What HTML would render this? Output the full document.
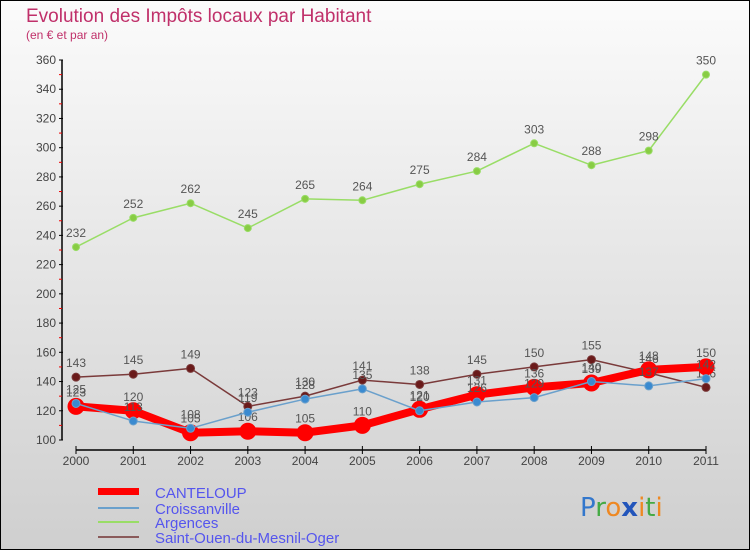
<!DOCTYPE html>
<html><head><meta charset="utf-8"><style>
body{margin:0;}
#wrap{width:750px;height:550px;position:relative;overflow:hidden;}
</style></head><body>
<div id="wrap">
<svg id="chart" width="750" height="550" xmlns="http://www.w3.org/2000/svg" font-family="'Liberation Sans', sans-serif">
<defs>
<linearGradient id="bg" x1="0" y1="0" x2="0" y2="1">
<stop offset="0" stop-color="#fbfbfb"/><stop offset="1" stop-color="#cfcfcf"/>
</linearGradient>
</defs>
<rect x="0.5" y="0.5" width="749" height="549" fill="url(#bg)" stroke="#000"/>
<text x="26" y="22" font-size="19" fill="#c0306a">Evolution des Impôts locaux par Habitant</text>
<text x="26" y="39" font-size="12" fill="#c0306a">(en € et par an)</text>
<g id="axes"></g>
<g id="series"></g>
<g id="legend">
<rect x="98" y="488" width="41" height="7" fill="#f00"/>
<text x="155" y="498" font-size="15" fill="#5555ee">CANTELOUP</text>
<line x1="98" x2="139" y1="508" y2="508" stroke="#6aa0cc" stroke-width="2"/>
<text x="155" y="514" font-size="15" fill="#5555ee">Croissanville</text>
<line x1="98" x2="139" y1="522" y2="522" stroke="#99dd66" stroke-width="2"/>
<text x="155" y="528" font-size="15" fill="#5555ee">Argences</text>
<line x1="98" x2="139" y1="537" y2="537" stroke="#8a5a5a" stroke-width="2"/>
<text x="155" y="543" font-size="15" fill="#5555ee">Saint-Ouen-du-Mesnil-Oger</text>
</g>
<g font-size="26" font-family="'DejaVu Sans', sans-serif">
<text x="580" y="516"><tspan fill="#3377cc">P</tspan><tspan fill="#44aa44">r</tspan><tspan fill="#ee8822">o</tspan><tspan fill="#2255bb" font-weight="bold">x</tspan><tspan fill="#ee8822">i</tspan><tspan fill="#44aa44">t</tspan><tspan fill="#ee8822">i</tspan></text>
</g>
</svg>
</div>
<script>
const years=["2000","2001","2002","2003","2004","2005","2006","2007","2008","2009","2010","2011"];
const yTicks=[100,120,140,160,180,200,220,240,260,280,300,320,340,360];
const canteloup=[123,120,105,106,105,110,121,131,136,139,148,150];
const croissanville=[125,113,108,119,128,135,120,126,129,140,137,142];
const argences=[232,252,262,245,265,264,275,284,303,288,298,350];
const saintOuen=[143,145,149,123,130,141,138,145,150,155,146,136];

const NS="http://www.w3.org/2000/svg";
function xs(i){return 76+i*(706-76)/(years.length-1);}
function ys(v){return 440-(v-100)*(380/260);}
function mk(tag,attrs,parent){const e=document.createElementNS(NS,tag);for(const k in attrs)e.setAttribute(k,attrs[k]);parent.appendChild(e);return e;}
const axes=document.getElementById('axes');
const yAxis=mk('line',{x1:62,x2:62,y1:ys(360),y2:ys(100),stroke:'#000','stroke-width':1.5},axes);


yTicks.forEach((t,i)=>{
  mk('line',{x1:59,x2:63,y1:ys(t),y2:ys(t),stroke:'#000'},axes);
  if(i<yTicks.length-1) mk('line',{x1:59,x2:62,y1:ys(t+10),y2:ys(t+10),stroke:'#e00'},axes);
  const tx=mk('text',{x:56,y:ys(t)+4,'text-anchor':'end','font-size':12,fill:'#444'},axes);
  tx.textContent=t;
  
  
});
const xAxis=mk('line',{x1:76,x2:706,y1:450,y2:450,stroke:'#000','stroke-width':1.5},axes);


years.forEach((y,i)=>{
  mk('line',{x1:xs(i),x2:xs(i),y1:446,y2:454,stroke:'#000'},axes);
  const tx=mk('text',{x:xs(i),y:465,'text-anchor':'middle','font-size':12,fill:'#444'},axes);
  tx.textContent=y;
  
  
});
const sg=document.getElementById('series');
function draw(vals,color,w,r,name,dot){
  const g=mk('g',{},sg);
  
  
  const pl=mk('polyline',{points:vals.map((v,i)=>xs(i)+','+ys(v)).join(' '),fill:'none',stroke:color,'stroke-width':w,'stroke-linejoin':'round'},g);
  
  
  vals.forEach((v,i)=>{
    const c=mk('circle',{cx:xs(i),cy:ys(v),r:r,fill:dot,stroke:color,'stroke-width':1},g);
    
    
    const t=mk('text',{x:xs(i),y:ys(v)-10,'text-anchor':'middle','font-size':12,fill:'#555'},g);
    t.textContent=v;
    
    
  });
}
draw(argences,'#99dd66',1.5,3.5,'argences','#88cc44');
draw(saintOuen,'#7a3a3a',1.5,4,'saint-ouen','#6a1a1a');
draw(canteloup,'#f00',8,8,'canteloup','#f00');
draw(croissanville,'#6aa0cc',1.5,4,'croissanville','#3a8ad0');
</script>
</body></html>
